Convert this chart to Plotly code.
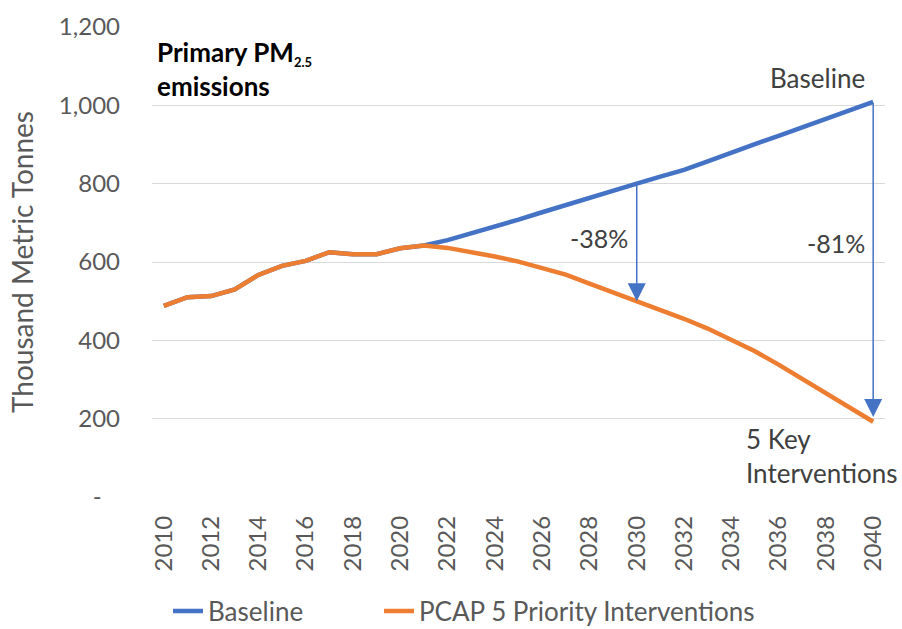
import plotly.graph_objects as go

years = list(range(2010, 2041))
baseline = [488, 510, 513, 530, 567, 590, 603, 625, 620, 620, 635, 642,
            656, 673, 690, 708, 727, 746, 764, 782, 800,
            818, 835, 857, 880, 901, 922, 944, 965, 987, 1009]
pcap = [488, 510, 513, 530, 567, 590, 603, 625, 620, 620, 635, 642,
        636, 626, 614, 601, 585, 568, 545, 523, 500,
        478, 455, 430, 402, 372, 338, 302, 265, 228, 192]

ytick_vals = [0, 200, 400, 600, 800, 1000, 1200]
ytick_text = ["-\u00a0\u00a0\u00a0", "200", "400", "600", "800", "1,000", "1,200"]
xtick_vals = list(range(2010, 2041, 2))

FONT = "Lato"
GRAY = "#595959"
DARK = "#404040"
BLUE = "#4472C4"
ORANGE = "#ED7D31"

fig = go.Figure()
fig.add_trace(go.Scatter(x=years, y=baseline, mode="lines", name="Baseline",
                         line=dict(color=BLUE, width=4.5), legend="legend"))
fig.add_trace(go.Scatter(x=years, y=pcap, mode="lines", name="PCAP 5 Priority Interventions",
                         line=dict(color=ORANGE, width=4.5), legend="legend2"))

i30 = years.index(2030)
i40 = years.index(2040)
annotations = [
    dict(x=2030, y=pcap[i30], ax=2030, ay=baseline[i30], xref="x", yref="y",
         axref="x", ayref="y", text="", showarrow=True, arrowhead=2,
         arrowsize=2.4, arrowwidth=1.5, arrowcolor=BLUE),
    dict(x=2040, y=pcap[i40] + 12, ax=2040, ay=baseline[i40], xref="x", yref="y",
         axref="x", ayref="y", text="", showarrow=True, arrowhead=2,
         arrowsize=2.4, arrowwidth=1.5, arrowcolor=BLUE),
    dict(x=2029.7, y=661, xref="x", yref="y", text="-38%", showarrow=False,
         xanchor="right", yanchor="middle", font=dict(family=FONT, size=25, color=DARK)),
    dict(x=2039.75, y=648, xref="x", yref="y", text="-81%", showarrow=False,
         xanchor="right", yanchor="middle", font=dict(family=FONT, size=25, color=DARK)),
    dict(x=2039.75, y=1070, xref="x", yref="y", text="Baseline", showarrow=False,
         xanchor="right", yanchor="middle", font=dict(family=FONT, size=26, color=DARK)),
    dict(x=2034.55, y=105, xref="x", yref="y", text="5 Key<br>Interventions",
         showarrow=False, xanchor="left", yanchor="middle", align="left",
         font=dict(family=FONT, size=26, color=DARK)),
    dict(x=0.004, y=(497 - 69) / 470, xref="paper", yref="paper",
         text="<b>Primary PM<sub><span style='font-size:13px'>2.5</span></sub><br>emissions</b>",
         showarrow=False, xanchor="left", yanchor="middle", align="left",
         font=dict(family=FONT, size=26, color="black")),
    dict(x=(22 - 152) / 733, y=0.5, xref="paper", yref="paper",
         text="Thousand Metric Tonnes", textangle=-90, showarrow=False,
         xanchor="center", yanchor="middle",
         font=dict(family=FONT, size=28, color=GRAY)),
]

legend_font = dict(family=FONT, size=26, color=GRAY)
ly = -(611 - 497) / 470
fig.update_layout(
    width=902, height=629,
    margin=dict(l=152, r=17, t=27, b=132, autoexpand=False),
    paper_bgcolor="white", plot_bgcolor="white",
    font=dict(family=FONT, size=24, color=GRAY),
    showlegend=True,
    legend=dict(orientation="h", x=(168 - 152) / 733, xanchor="left", y=ly,
                yanchor="middle", font=legend_font, bgcolor="rgba(0,0,0,0)"),
    legend2=dict(orientation="h", x=(379 - 152) / 733, xanchor="left", y=ly,
                 yanchor="middle", font=legend_font, bgcolor="rgba(0,0,0,0)"),
    annotations=annotations,
)
fig.update_xaxes(range=[2009.5, 2040.5], tickvals=xtick_vals, ticktext=[str(v) for v in xtick_vals],
                 tickangle=-90, showgrid=False, zeroline=False, showline=False,
                 ticks="", ticklabelstandoff=13, automargin=False,
                 tickfont=dict(family=FONT, size=24, color=GRAY))
fig.update_yaxes(range=[0, 1200], tickvals=ytick_vals, ticktext=ytick_text,
                 showgrid=True, gridcolor="#D9D9D9", gridwidth=1, zeroline=False,
                 showline=False, ticks="", ticklabelstandoff=31, automargin=False,
                 tickfont=dict(family=FONT, size=24, color=GRAY))

fig.write_html("out.html")
